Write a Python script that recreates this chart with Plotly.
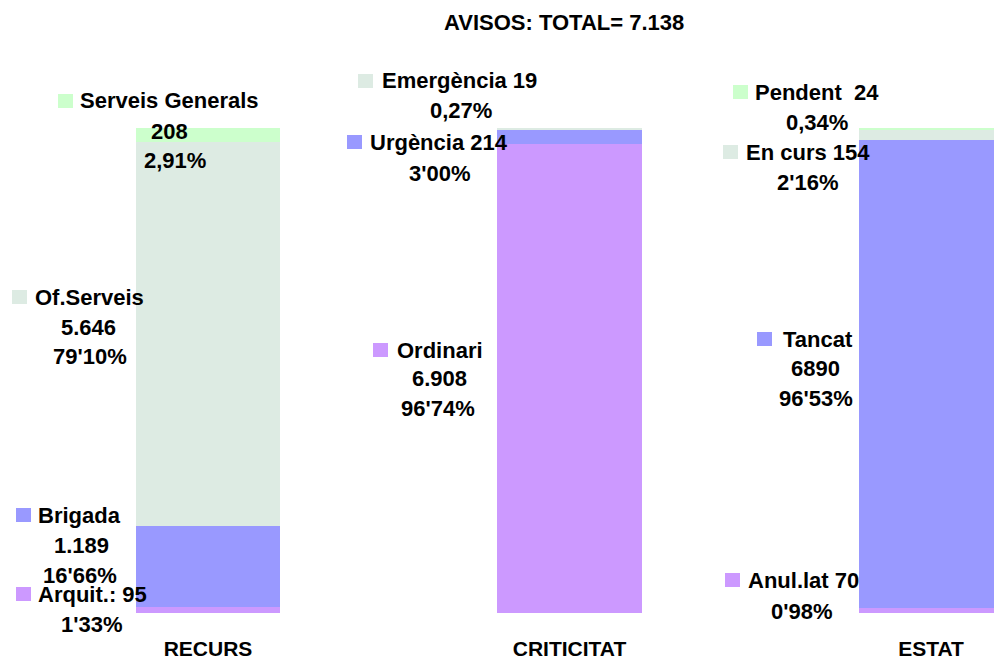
import plotly.graph_objects as go

# ---- data ----
categories = ["RECURS", "CRITICITAT", "ESTAT"]
layer_names = ["Arquit./Ordinari/Anul.lat", "Brigada/Urgència/Tancat",
               "Of.Serveis/Emergència/En curs", "Serveis Generals/Pendent"]
purple_vals = [95, 6908, 70]
blue_vals = [1189, 214, 6890]
grey_vals = [5646, 19, 154]
green_vals = [208, 0, 24]
title_text = "AVISOS: TOTAL= 7.138"

# ---- style ----
W, H = 994, 659
PLOT_TOP, PLOT_BOTTOM = 128, 613
FONT = "Liberation Sans, Arial, sans-serif"
FS = 22
colors = ["#CC99FF", "#9999FF", "#DDEBE3", "#CCFFCC"]

fig = go.Figure()
x_pos = list(range(len(categories)))
for name, vals, col in zip(layer_names, [purple_vals, blue_vals, grey_vals, green_vals], colors):
    fig.add_trace(go.Bar(x=x_pos, y=vals, name=name, marker=dict(color=col, line=dict(width=0)),
                         width=0.401, hoverinfo="skip"))

spacing = 361.5
x0 = -208 / spacing
x1 = x0 + W / spacing


def px(x):
    return x / W


def py(y):
    return (PLOT_BOTTOM - y) / (PLOT_BOTTOM - PLOT_TOP)


# label lines: (text, x, y, anchor, square_color or None, square_x)
labels = [
    ("Serveis Generals", 79, 101, "left", colors[3], 58),
    ("208", 169, 131, "center", None, None),
    ("2,91%", 175, 160, "center", None, None),
    ("Of.Serveis", 34, 297, "left", colors[2], 12),
    ("5.646", 88, 327, "center", None, None),
    ("79'10%", 90, 356, "center", None, None),
    ("Brigada", 37, 515, "left", colors[1], 16),
    ("1.189", 81, 545, "center", None, None),
    ("16'66%", 80, 575, "center", None, None),
    ("Arquit.: 95", 37, 594, "left", colors[0], 16),
    ("1'33%", 92, 624, "center", None, None),
    ("Emergència 19", 381, 81, "left", colors[2], 358),
    ("0,27%", 461, 111, "center", None, None),
    ("Urgència 214", 369, 142, "left", colors[1], 347),
    ("3'00%", 440, 173, "center", None, None),
    ("Ordinari", 396, 350, "left", colors[0], 373),
    ("6.908", 439, 378, "center", None, None),
    ("96'74%", 438, 409, "center", None, None),
    ("Pendent \u00a024", 754, 92, "left", colors[3], 733),
    ("0,34%", 817, 122, "center", None, None),
    ("En curs 154", 745, 152, "left", colors[2], 723),
    ("2'16%", 808, 182, "center", None, None),
    ("Tancat", 782, 339, "left", colors[1], 757),
    ("6890", 815, 368, "center", None, None),
    ("96'53%", 816, 398, "center", None, None),
    ("Anul.lat 70", 747, 580, "left", colors[0], 725),
    ("0'98%", 802, 611, "center", None, None),
]

annotations = []
shapes = []
for text, x, y, anchor, sq, sqx in labels:
    annotations.append(dict(text=text, x=px(x), y=py(y), xref="paper", yref="paper",
                            xanchor=anchor, yanchor="middle", showarrow=False,
                            borderpad=0, font=dict(family=FONT, size=FS, color="#000000", weight="bold")))
    if sq:
        shapes.append(dict(type="rect", xref="paper", yref="paper",
                           x0=px(sqx), x1=px(sqx + 15), y0=py(y + 7), y1=py(y - 7),
                           fillcolor=sq, line=dict(width=0), layer="above"))

annotations.append(dict(text=title_text, x=px(564), y=py(22), xref="paper", yref="paper",
                        xanchor="center", yanchor="middle", showarrow=False,
                        font=dict(family=FONT, size=FS, color="#000000", weight="bold")))

fig.update_layout(
    width=W, height=H,
    barmode="stack", barnorm="percent",
    showlegend=False,
    plot_bgcolor="white", paper_bgcolor="white",
    margin=dict(l=0, r=0, t=PLOT_TOP, b=H - PLOT_BOTTOM, pad=0, autoexpand=False),
    xaxis=dict(range=[x0, x1], tickvals=x_pos, ticktext=categories, showgrid=False,
               zeroline=False, showline=False, ticks="", ticklabelstandoff=21, automargin=False,
               tickfont=dict(family=FONT, size=FS - 1, color="#000000", weight="bold")),
    yaxis=dict(range=[0, 100], visible=False, showgrid=False, zeroline=False, automargin=False),
    annotations=annotations, shapes=shapes,
)

fig.write_html("out.html", config={"displayModeBar": False},
               post_script="document.body.style.margin='0';")
